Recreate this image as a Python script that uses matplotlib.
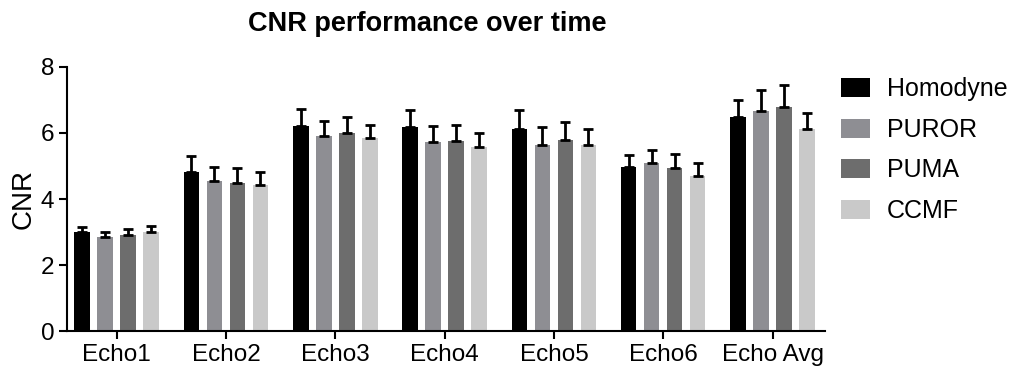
import matplotlib
matplotlib.use("Agg")
import matplotlib.pyplot as plt
import numpy as np

plt.rcParams['font.family'] = ['Liberation Sans', 'DejaVu Sans']

categories = ["Echo1", "Echo2", "Echo3", "Echo4", "Echo5", "Echo6", "Echo Avg"]
series_names = ["Homodyne", "PUROR", "PUMA", "CCMF"]
homodyne = [2.99, 4.83, 6.22, 6.17, 6.11, 4.96, 6.48]
homodyne_err = [0.17, 0.46, 0.51, 0.52, 0.58, 0.38, 0.51]
puror = [2.86, 4.54, 5.91, 5.74, 5.64, 5.08, 6.66]
puror_err = [0.15, 0.44, 0.46, 0.47, 0.54, 0.40, 0.65]
puma = [2.91, 4.49, 5.99, 5.77, 5.79, 4.95, 6.78]
puma_err = [0.17, 0.44, 0.49, 0.47, 0.54, 0.40, 0.68]
ccmf = [3.00, 4.41, 5.84, 5.58, 5.64, 4.70, 6.11]
ccmf_err = [0.17, 0.40, 0.41, 0.43, 0.49, 0.38, 0.51]
yticks = [0, 2, 4, 6, 8]

values = [homodyne, puror, puma, ccmf]
errors = [homodyne_err, puror_err, puma_err, ccmf_err]
colors = ["#000000", "#8e8e93", "#6d6d6d", "#c9c9c9"]

fig = plt.figure(figsize=(10.12, 3.72), dpi=100)
ax = fig.add_axes([0.0659, 0.1102, 0.7493, 0.7097])

x = np.arange(len(categories))
pitch = 0.2104
width = 0.142
for i, (vals, errs, c, name) in enumerate(zip(values, errors, colors, series_names)):
    pos = x + (i - 1.5) * pitch
    ax.bar(pos, vals, width=width, color=c, label=name, zorder=2)
    ax.errorbar(pos, vals, yerr=[np.zeros(len(errs)), errs], fmt='none',
                ecolor='black', elinewidth=2.0, capsize=3.4, capthick=2.0, zorder=3)

ax.set_xlim(-0.457, 6.48)
ax.set_ylim(0, 8)
ax.set_yticks(yticks)
ax.set_xticks(x)
ax.set_xticklabels(categories)
ax.tick_params(axis='both', direction='out', length=6, width=1.5, labelsize=17.5, pad=3, colors='black')
for s in ['top', 'right']:
    ax.spines[s].set_visible(False)
for s in ['left', 'bottom']:
    ax.spines[s].set_linewidth(1.5)
ax.set_ylabel("CNR", fontsize=20, labelpad=3)
fig.text(0.422, 0.918, "CNR performance over time", ha='center', va='baseline',
         fontsize=19.5, fontweight='bold')

ax.legend(loc='upper left', bbox_to_anchor=(0.8310, 0.792), bbox_transform=fig.transFigure,
          frameon=False, fontsize=18, handlelength=1.15, handleheight=0.78,
          handletextpad=0.68, labelspacing=0.66, borderpad=0, borderaxespad=0)

fig.savefig("out.png", dpi=100)
